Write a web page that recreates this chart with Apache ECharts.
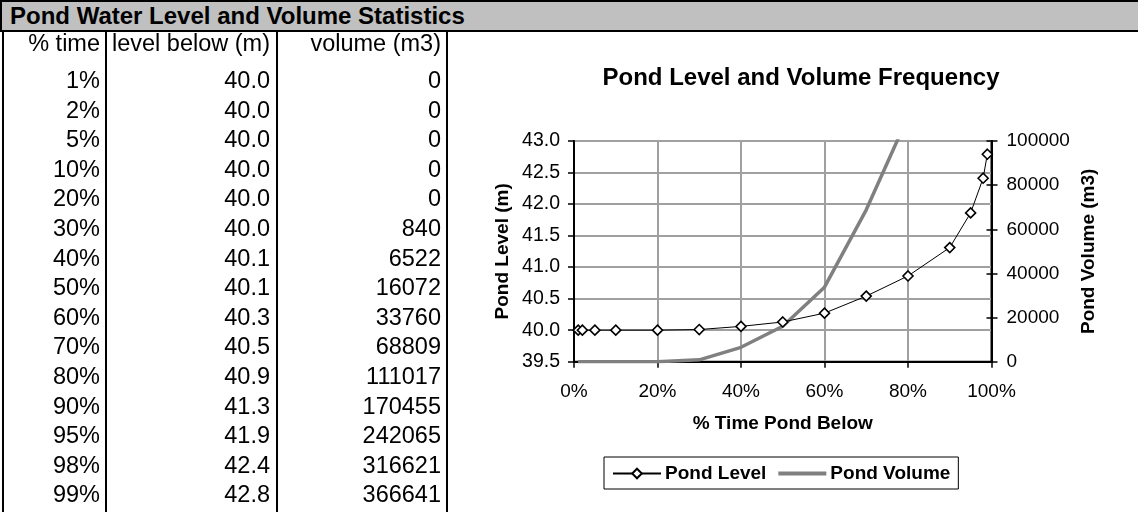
<!DOCTYPE html>
<html>
<head>
<meta charset="utf-8">
<script src="https://cdn.jsdelivr.net/npm/echarts@6/dist/echarts.min.js"></script>
<style>
  html, body { margin: 0; padding: 0; background: #fff; }
  body { width: 1138px; height: 512px; position: relative; overflow: hidden;
         font-family: "Liberation Sans", Arial, sans-serif; color: #000; }
  #chart { position: absolute; left: 0; top: 0; width: 1138px; height: 512px; }
  #sheet { position: absolute; left: 0; top: 0; width: 1138px; height: 512px; pointer-events: none; }
  .titlebar { position: absolute; left: 0; top: 0; width: 1136px; height: 28px;
              background: #c0c0c0; border-top: 2px solid #000; border-bottom: 2px solid #000;
              border-left: 2px solid #000; font-weight: bold; font-size: 24px; line-height: 28px; }
  .titlebar span { position: absolute; left: 8px; top: 0; }
  .vline { position: absolute; top: 32px; width: 2px; height: 480px; background: #000; }
  .cell { position: absolute; font-size: 23.5px; line-height: 26px; height: 26px;
          text-align: right; white-space: nowrap; }
</style>
</head>
<body>
<div id="chart"></div>
<div id="sheet"></div>
<script>
// Exceedance table: share of time the pond sits below a given level / volume
const pctTime = [1, 2, 5, 10, 20, 30, 40, 50, 60, 70, 80, 90, 95, 98, 99];
const pondLevel = [40.00, 40.00, 40.00, 40.00, 40.00, 40.01, 40.06, 40.13, 40.27, 40.54, 40.86, 41.31, 41.86, 42.41, 42.79];
const pondVolume = [0, 0, 0, 0, 0, 840, 6522, 16072, 33760, 68809, 111017, 170455, 242065, 316621, 366641];

const sheetTitle = 'Pond Water Level and Volume Statistics';
const columnHeaders = ['% time', 'level below (m)', 'volume (m3)'];
const chartTitle = 'Pond Level and Volume Frequency';
const xAxisTitle = '% Time Pond Below';
const levelAxisTitle = 'Pond Level (m)';
const volumeAxisTitle = 'Pond Volume (m3)';
const seriesNames = ['Pond Level', 'Pond Volume'];

// ---- spreadsheet part ----
const sheet = document.getElementById('sheet');
const bar = document.createElement('div');
bar.className = 'titlebar';
bar.innerHTML = '<span></span>';
bar.firstChild.textContent = sheetTitle;
sheet.appendChild(bar);

[2, 105, 276, 446].forEach(x => {
  const v = document.createElement('div');
  v.className = 'vline';
  v.style.left = x + 'px';
  sheet.appendChild(v);
});

const colRight = [100, 270, 441];
const colWidth = [98, 165, 165];
function addCell(text, col, centerY) {
  const d = document.createElement('div');
  d.className = 'cell';
  d.textContent = text;
  d.style.left = (colRight[col] - colWidth[col]) + 'px';
  d.style.width = colWidth[col] + 'px';
  d.style.top = (centerY - 13) + 'px';
  sheet.appendChild(d);
}
columnHeaders.forEach((h, i) => addCell(h, i, 43));
pctTime.forEach((p, k) => {
  const cy = 80 + 29.6 * k;
  addCell(p + '%', 0, cy);
  addCell(pondLevel[k].toFixed(1), 1, cy);
  addCell(String(pondVolume[k]), 2, cy);
});

// ---- chart part ----
const font = '"Liberation Sans", Arial, sans-serif';
const chart = echarts.init(document.getElementById('chart'), null, { renderer: 'canvas' });

const levelData = pctTime.map((p, i) => [p, pondLevel[i]]);
const volumeData = pctTime.map((p, i) => [p, pondVolume[i]]);

const gridLine = { show: true, lineStyle: { color: '#a0a0a0', width: 2 } };
const axisTitleStyle = { fontFamily: font, fontSize: 19, fontWeight: 'bold', color: '#000' };

chart.setOption({
  animation: false,
  textStyle: { fontFamily: font, color: '#000' },
  title: {
    text: chartTitle,
    left: 796,
    textAlign: 'center',
    top: 61,
    textStyle: { fontFamily: font, fontSize: 24, fontWeight: 'bold', color: '#000' }
  },
  legend: {
    left: 604,
    top: 457,
    padding: [7, 8, 6, 8],
    borderColor: '#000',
    borderWidth: 1,
    itemWidth: 48,
    itemHeight: 12,
    itemGap: 10,
    textStyle: { fontFamily: font, fontSize: 19, fontWeight: 'bold', color: '#000', padding: [0, 0, 0, -1] },
    data: [
      { name: seriesNames[0] },
      { name: seriesNames[1], itemStyle: { opacity: 0 }, lineStyle: { width: 4, color: '#808080' } }
    ]
  },
  grid: {
    left: 574, top: 141, right: 146.5, bottom: 150.3,
    show: true, borderColor: '#000', borderWidth: 2, backgroundColor: '#fff'
  },
  xAxis: {
    type: 'value', min: 0, max: 100, interval: 20,
    name: xAxisTitle, nameLocation: 'middle', nameGap: 53,
    nameTextStyle: axisTitleStyle,
    axisLine: { lineStyle: { color: '#000', width: 2 } },
    axisTick: { show: true, inside: false, length: 6, lineStyle: { color: '#000', width: 1.5 } },
    axisLabel: { color: '#000', fontSize: 19, fontFamily: font, margin: 21, formatter: v => v + '%' },
    splitLine: gridLine
  },
  yAxis: [
    {
      type: 'value', min: 39.5, max: 43, interval: 0.5, position: 'left',
      name: levelAxisTitle, nameLocation: 'middle', nameGap: 62, nameRotate: 90,
      nameTextStyle: axisTitleStyle,
      axisLine: { show: true, lineStyle: { color: '#000', width: 2 } },
      axisTick: { show: true, inside: false, length: 6, lineStyle: { color: '#000', width: 1.5 } },
      axisLabel: { color: '#000', fontSize: 19.5, fontFamily: font, margin: 14, formatter: v => v.toFixed(1) },
      splitLine: gridLine
    },
    {
      type: 'value', min: 0, max: 100000, interval: 20000, position: 'right',
      name: volumeAxisTitle, nameLocation: 'middle', nameGap: 88, nameRotate: 90,
      nameTextStyle: axisTitleStyle,
      axisLine: { show: true, lineStyle: { color: '#000', width: 2 } },
      axisTick: { show: true, inside: false, length: 6, lineStyle: { color: '#000', width: 1.5 } },
      axisLabel: { color: '#000', fontSize: 19, fontFamily: font, margin: 15, formatter: v => String(v) },
      splitLine: { show: false }
    },
    {
      // inner half of the crossing ticks on the volume axis
      type: 'value', min: 0, max: 100000, interval: 20000, position: 'right',
      axisLine: { show: false },
      axisTick: { show: true, inside: true, length: 5, lineStyle: { color: '#000', width: 1.5 } },
      axisLabel: { show: false },
      splitLine: { show: false }
    }
  ],
  series: [
    {
      name: seriesNames[0],
      type: 'line',
      yAxisIndex: 0,
      data: levelData,
      symbol: 'diamond',
      symbolSize: 10,
      showAllSymbol: true,
      itemStyle: { color: '#fff', borderColor: '#000', borderWidth: 1.6 },
      lineStyle: { color: '#000', width: 1 },
      z: 3
    },
    {
      name: seriesNames[1],
      type: 'line',
      yAxisIndex: 1,
      data: volumeData,
      symbol: 'none',
      clip: true,
      itemStyle: { color: '#808080' },
      lineStyle: { color: '#808080', width: 3.5 },
      z: 2
    }
  ]
});
</script>
</body>
</html>
